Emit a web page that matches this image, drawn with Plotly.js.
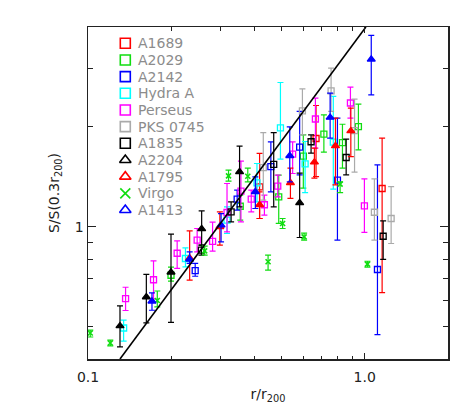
<!DOCTYPE html>
<html>
<head>
<meta charset="utf-8">
<script src="https://cdn.plot.ly/plotly-3.0.1.min.js"></script>
<style>html,body{margin:0;padding:0;background:#fff;}#chart{width:474px;height:415px;}</style>
</head>
<body>
<div id="chart"></div>
<script>
// ---- data (r/r200, S/S(0.3 r200), upper and lower error limits) ----
const names   = ['A1689','A2029','A2142','Hydra A','Perseus','PKS 0745','A1835','A2204','A1795','Virgo','A1413'];
const colors  = ['#ff0000','#11dd11','#0000ff','#00ffff','#ff00ff','#aaaaaa','#000000','#000000','#ff0000','#11dd11','#0000ff'];
const symbols = ['square-open','square-open','square-open','square-open','square-open','square-open','square-open','triangle-up','triangle-up','x-thin-open','triangle-up'];
const legendSymbols = ['square-open','square-open','square-open','square-open','square-open','square-open','square-open','triangle-up-open','triangle-up-open','x-thin-open','triangle-up-open'];

const a1689_x  = [0.417, 0.667, 1.156];
const a1689_y  = [1.320, 1.846, 1.305];
const a1689_hi = [1.664, 2.321, 1.850];
const a1689_lo = [1.060, 1.418, 0.634];

const a2029_x  = [0.1995, 0.355, 0.489, 0.600, 0.712, 0.831, 0.949];
const a2029_y  = [0.715, 1.154, 1.231, 1.633, 1.902, 1.793, 2.004];
const a2029_hi = [0.756, 1.246, 1.431, 1.893, 2.175, 2.038, 2.342];
const a2029_lo = [0.686, 1.048, 1.024, 1.308, 1.679, 1.503, 1.706];

const a2142_x  = [0.244, 0.346, 0.458, 0.582, 0.797, 1.112];
const a2142_y  = [0.738, 1.212, 1.518, 1.738, 1.383, 0.744];
const a2142_hi = [0.776, 1.290, 1.803, 2.227, 2.126, 1.537];
const a2142_lo = [0.710, 1.123, 1.275, 1.434, 0.912, 0.474];

const hydra_x  = [0.1345, 0.225, 0.318, 0.408, 0.496, 0.609, 0.770];
const hydra_y  = [0.496, 0.803, 1.048, 1.357, 1.987, 1.548, 1.799];
const hydra_hi = [0.524, 0.864, 1.149, 1.552, 2.722, 1.808, 2.471];
const hydra_lo = [0.453, 0.758, 0.955, 1.189, 1.599, 1.269, 1.299];

const perseus_x  = [0.1367, 0.1725, 0.210, 0.248, 0.282, 0.318, 0.357, 0.389, 0.434, 0.485, 0.549, 0.6635, 0.888, 0.9975];
const perseus_y  = [0.608, 0.693, 0.833, 0.912, 0.904, 1.105, 1.281, 1.212, 1.166, 1.326, 1.656, 2.113, 2.361, 1.157];
const perseus_hi = [0.658, 0.790, 0.907, 0.989, 1.033, 1.351, 1.577, 1.290, 1.246, 1.431, 1.803, 2.442, 2.635, 1.395];
const perseus_lo = [0.560, 0.607, 0.750, 0.841, 0.845, 0.966, 1.035, 1.110, 1.085, 1.231, 1.448, 1.726, 2.126, 0.962];

const pks_x  = [0.430, 0.5955, 0.756, 0.919, 1.084, 1.246];
const pks_y  = [1.508, 2.236, 2.568, 1.949, 1.107, 1.060];
const pks_hi = [1.924, 2.604, 3.006, 2.425, 1.395, 1.323];
const pks_lo = [1.204, 1.893, 2.227, 1.462, 0.912, 0.891];

const a1835_x  = [0.257, 0.329, 0.469, 0.640, 0.857, 1.166];
const a1835_y  = [0.851, 1.110, 1.542, 1.805, 1.618, 0.937];
const a1835_hi = [0.881, 1.189, 1.924, 1.893, 1.837, 1.043];
const a1835_lo = [0.822, 1.035, 1.149, 1.667, 1.434, 0.798];

const a2204_x  = [0.1305, 0.1625, 0.1995, 0.2575, 0.353, 0.582];
const a2204_y  = [0.503, 0.615, 0.730, 0.986, 1.465, 1.181];
const a2204_hi = [0.578, 0.719, 0.951, 1.117, 1.750, 1.451];
const a2204_lo = [0.435, 0.514, 0.516, 0.881, 1.149, 0.929];

const a1795_x  = [0.233, 0.2996, 0.417, 0.539, 0.658, 0.784, 0.891];
const a1795_y  = [0.805, 1.001, 1.166, 1.357, 1.566, 1.754, 1.945];
const a1795_hi = [0.973, 1.110, 1.275, 1.503, 1.726, 2.126, 2.278];
const a1795_lo = [0.691, 0.881, 1.060, 1.218, 1.402, 1.338, 1.629];

const virgo_x  = [0.1019, 0.1204, 0.178, 0.264, 0.322, 0.378, 0.4475, 0.505, 0.604, 0.815, 1.023];
const virgo_y  = [0.479, 0.447, 0.600, 0.847, 1.424, 1.421, 0.785, 1.024, 0.933, 1.345, 0.772];
const virgo_hi = [0.489, 0.456, 0.641, 0.875, 1.482, 1.503, 0.822, 1.060, 0.957, 1.366, 0.788];
const virgo_lo = [0.466, 0.438, 0.574, 0.822, 1.373, 1.366, 0.741, 0.989, 0.912, 1.269, 0.756];

const a1413_x  = [0.1703, 0.233, 0.3026, 0.4025, 0.536, 0.750, 1.056];
const a1413_y  = [0.597, 0.799, 1.012, 1.275, 1.638, 2.136, 3.196];
const a1413_hi = [0.633, 0.841, 1.097, 1.414, 2.001, 2.527, 3.772];
const a1413_lo = [0.561, 0.776, 0.901, 1.136, 1.366, 1.850, 2.497];

// reference power-law line (end points)
const line_x = [0.1305, 1.01];
const line_y = [0.4, 4.0];

const xTickVals = [0.1, 1];
const xTickText = ['0.1', '1.0'];
const xMinorVals = [0.2, 0.3, 0.4, 0.5, 0.6, 0.7, 0.8, 0.9];
const yTickVals = [1];
const yTickText = ['1'];
const yMinorVals = [0.5, 0.6, 0.7, 0.8, 0.9, 2, 3];

// ---- build traces ----
const series = [
  [a1689_x, a1689_y, a1689_hi, a1689_lo],
  [a2029_x, a2029_y, a2029_hi, a2029_lo],
  [a2142_x, a2142_y, a2142_hi, a2142_lo],
  [hydra_x, hydra_y, hydra_hi, hydra_lo],
  [perseus_x, perseus_y, perseus_hi, perseus_lo],
  [pks_x, pks_y, pks_hi, pks_lo],
  [a1835_x, a1835_y, a1835_hi, a1835_lo],
  [a2204_x, a2204_y, a2204_hi, a2204_lo],
  [a1795_x, a1795_y, a1795_hi, a1795_lo],
  [virgo_x, virgo_y, virgo_hi, virgo_lo],
  [a1413_x, a1413_y, a1413_hi, a1413_lo]
];

const FONT = 'DejaVu Sans, Liberation Sans, sans-serif';
const traces = [];
series.forEach((s, i) => {
  const [xs, ys, hi, lo] = s;
  const tri = symbols[i].indexOf('triangle') === 0;
  const isX = symbols[i].indexOf('x') === 0;
  traces.push({
    type: 'scatter', mode: 'markers', name: names[i], showlegend: false,
    x: xs, y: ys,
    error_y: {
      type: 'data', symmetric: false,
      array: ys.map((v, k) => hi[k] - v),
      arrayminus: ys.map((v, k) => v - lo[k]),
      color: colors[i], thickness: 1.2, width: 3
    },
    marker: {
      symbol: symbols[i], size: tri ? 7 : (isX ? 5 : 6),
      color: colors[i],
      line: {color: colors[i], width: isX ? 1.6 : 1.3}
    },
    hoverinfo: 'skip'
  });
});

traces.push({
  type: 'scatter', mode: 'lines', x: line_x, y: line_y, showlegend: false,
  line: {color: '#000', width: 1.6}, hoverinfo: 'skip'
});

// legend (overlay axes, 0..1 in both directions)
const plotL = 88, plotR = 448, plotT = 27, plotB = 359;
const legX = (125.3 - plotL) / (plotR - plotL);
const legTextX = (136 - plotL) / (plotR - plotL);
const legY = names.map((n, i) => (plotB - (43.3 + i * 16.67)) / (plotB - plotT));
traces.push({
  type: 'scatter', mode: 'markers', xaxis: 'x2', yaxis: 'y2', showlegend: false,
  x: names.map(() => legX), y: legY,
  marker: {symbol: legendSymbols, size: 10, color: colors, line: {color: colors, width: 1.6}},
  hoverinfo: 'skip'
});

const annotations = names.map((n, i) => ({
  xref: 'paper', yref: 'paper', x: legTextX, y: legY[i],
  xanchor: 'left', yanchor: 'middle', showarrow: false,
  text: n, font: {family: FONT, size: 14, color: '#8c8c8c'}
}));

const axisCommon = {
  type: 'log', showgrid: false, zeroline: false,
  showline: true, linecolor: '#222', linewidth: 1.5, mirror: 'allticks',
  ticks: 'inside', tickcolor: '#222', tickwidth: 1,
  tickfont: {family: FONT, size: 14, color: '#222'}
};

const layout = {
  width: 474, height: 415,
  margin: {l: plotL, r: 474 - plotR, t: plotT, b: 415 - plotB},
  paper_bgcolor: '#fff', plot_bgcolor: '#fff',
  showlegend: false,
  font: {family: FONT, color: '#222'},
  xaxis: Object.assign({}, axisCommon, {
    range: [-1, Math.log10(2)],
    tickmode: 'array', tickvals: xTickVals, ticktext: xTickText, ticklen: 6,
    ticklabelstandoff: 5,
    minor: {tickmode: 'array', tickvals: xMinorVals, ticks: 'inside', ticklen: 3.5, tickcolor: '#222', tickwidth: 1, showgrid: false},
    title: {text: 'r/r<sub>200</sub>', font: {family: FONT, size: 14, color: '#222'}, standoff: 5}
  }),
  yaxis: Object.assign({}, axisCommon, {
    range: [Math.log10(0.4), Math.log10(4)],
    tickmode: 'array', tickvals: yTickVals, ticktext: yTickText, ticklen: 8,
    minor: {tickmode: 'array', tickvals: yMinorVals, ticks: 'inside', ticklen: 5, tickcolor: '#222', tickwidth: 1, showgrid: false},
    title: {text: 'S/S(0.3r<sub>200</sub>)', font: {family: FONT, size: 14, color: '#222'}, standoff: 12}
  }),
  xaxis2: {overlaying: 'x', anchor: 'y2', range: [0, 1], visible: false, fixedrange: true},
  yaxis2: {overlaying: 'y', anchor: 'x2', range: [0, 1], visible: false, fixedrange: true},
  annotations: annotations
};

Plotly.newPlot('chart', traces, layout, {staticPlot: true, displayModeBar: false});
</script>
</body>
</html>
